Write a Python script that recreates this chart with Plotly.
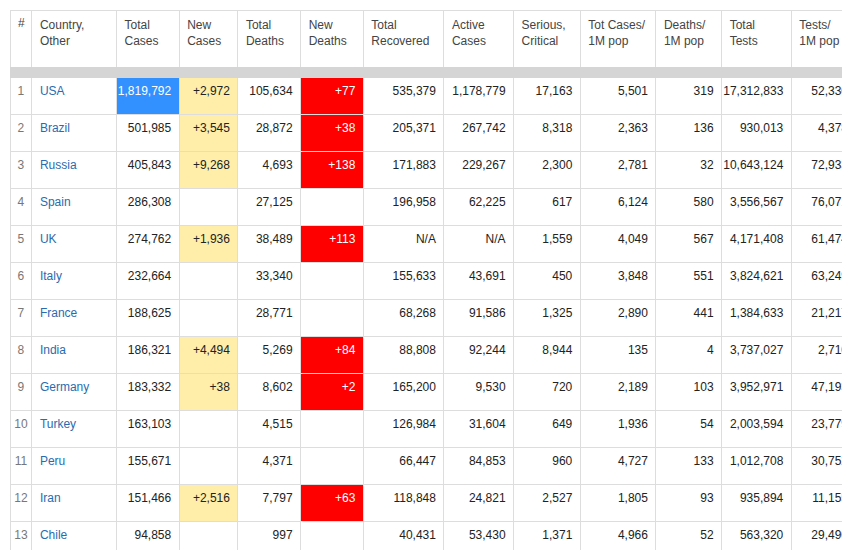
import plotly.graph_objects as go

rank = list(range(1, 14))
countries = ['USA', 'Brazil', 'Russia', 'Spain', 'UK', 'Italy', 'France', 'India',
             'Germany', 'Turkey', 'Peru', 'Iran', 'Chile']
total_cases = ['1,819,792', '501,985', '405,843', '286,308', '274,762', '232,664', '188,625',
               '186,321', '183,332', '163,103', '155,671', '151,466', '94,858']
new_cases = ['+2,972', '+3,545', '+9,268', '', '+1,936', '', '', '+4,494', '+38', '', '', '+2,516', '']
total_deaths = ['105,634', '28,872', '4,693', '27,125', '38,489', '33,340', '28,771',
                '5,269', '8,602', '4,515', '4,371', '7,797', '997']
new_deaths = ['+77', '+38', '+138', '', '+113', '', '', '+84', '+2', '', '', '+63', '']
recovered = ['535,379', '205,371', '171,883', '196,958', 'N/A', '155,633', '68,268',
             '88,808', '165,200', '126,984', '66,447', '118,848', '40,431']
active = ['1,178,779', '267,742', '229,267', '62,225', 'N/A', '43,691', '91,586',
          '92,244', '9,530', '31,604', '84,853', '24,821', '53,430']
serious = ['17,163', '8,318', '2,300', '617', '1,559', '450', '1,325', '8,944', '720',
           '649', '960', '2,527', '1,371']
cases_per_m = ['5,501', '2,363', '2,781', '6,124', '4,049', '3,848', '2,890', '135',
               '2,189', '1,936', '4,727', '1,805', '4,966']
deaths_per_m = ['319', '136', '32', '580', '567', '551', '441', '4', '103', '54', '133', '93', '52']
total_tests = ['17,312,833', '930,013', '10,643,124', '3,556,567', '4,171,408', '3,824,621',
               '1,384,633', '3,737,027', '3,952,971', '2,003,594', '1,012,708', '935,894', '563,320']
tests_per_m = ['52,330', '4,378', '72,933', '76,071', '61,474', '63,249', '21,217', '2,710',
               '47,193', '23,779', '30,752', '11,155', '29,490']

headers = ['#', 'Country,<br>Other', 'Total<br>Cases', 'New<br>Cases', 'Total<br>Deaths',
           'New<br>Deaths', 'Total<br>Recovered', 'Active<br>Cases', 'Serious,<br>Critical',
           'Tot Cases/<br>1M pop', 'Deaths/<br>1M pop', 'Total<br>Tests', 'Tests/<br>1M pop']
widths = [22, 85, 63, 59, 63, 63, 81, 70, 67, 76, 66, 70, 65]

cols = [rank, countries, total_cases, new_cases, total_deaths, new_deaths, recovered, active,
        serious, cases_per_m, deaths_per_m, total_tests, tests_per_m]

n = len(countries)
fills = []
fonts = []
for i, col in enumerate(cols):
    f = ['white'] * n
    c = ['#222222'] * n
    if i == 0:
        c = ['#777777'] * n
    if i == 1:
        c = ['#2a6bb0'] * n
    if i == 2:
        f[0] = '#3390ff'
        c[0] = 'white'
    if i == 3:
        f = ['#ffeeaa' if v else 'white' for v in new_cases]
    if i == 5:
        f = ['#ff0000' if v else 'white' for v in new_deaths]
        c = ['white'] * n
    fills.append(f)
    fonts.append(c)

aligns = ['center', 'left'] + ['right'] * 11
font = 'Liberation Sans, Arial, sans-serif'

fig = go.Figure()
# header
fig.add_trace(go.Table(
    domain=dict(x=[0, 1], y=[0.895, 1]),
    columnwidth=widths,
    header=dict(values=headers, height=57, align='left', fill_color='white',
                line_color='#dddddd', font=dict(family=font, size=12, color='#444444')),
    cells=dict(values=[[] for _ in headers]),
))
# grey band + body
fig.add_trace(go.Table(
    domain=dict(x=[0, 1], y=[0, 0.895]),
    columnwidth=widths,
    header=dict(values=[''] * len(headers), height=10, fill_color='#d5d5d5',
                line_color='#d5d5d5'),
    cells=dict(values=cols, height=37, align=aligns, fill_color=fills,
               line_color='#dddddd', font=dict(family=font, size=12, color=fonts)),
))
fig.update_layout(width=850, height=550, margin=dict(l=2, r=2, t=2, b=0),
                  paper_bgcolor='white')
fig.write_html("out.html")
